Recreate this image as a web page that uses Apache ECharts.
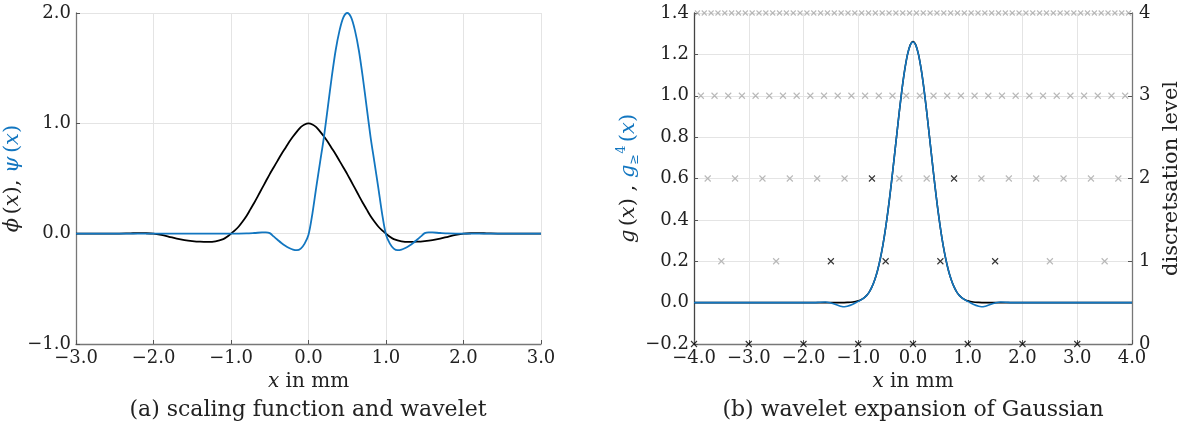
<!DOCTYPE html>
<html lang="en">
<head>
<meta charset="UTF-8">
<title>wavelet</title>
<script src="https://cdn.jsdelivr.net/npm/echarts@6/dist/echarts.min.js"></script>
<style>
  body { margin: 0; background: #fff; }
  #chartmain { width: 1188px; height: 435px; }
</style>
</head>
<body>
<div id="chartmain"></div>
<script type="text/javascript">

// (a) scaling function phi and wavelet psi, [x, y]
var phiPts = [[-3,0],[-2.5,0],[-2.3,0.003],[-2.2,0.005],[-2.1,0.004],[-2,0],[-1.9,-0.012],[-1.8,-0.028],
  [-1.7,-0.045],[-1.6,-0.058],[-1.5,-0.067],[-1.4,-0.073],[-1.3,-0.075],[-1.2,-0.07],[-1.1,-0.05],[-1.05,-0.028],
  [-1,0],[-0.95,0.03],[-0.9,0.065],[-0.85,0.11],[-0.8,0.16],[-0.75,0.22],[-0.7,0.28],[-0.65,0.345],[-0.6,0.41],
  [-0.55,0.475],[-0.5,0.54],[-0.45,0.6],[-0.4,0.66],[-0.35,0.72],[-0.3,0.775],[-0.25,0.83],[-0.2,0.88],
  [-0.15,0.925],[-0.1,0.965],[-0.05,0.99],[0,1],[0.05,0.99],[0.1,0.965],[0.15,0.925],[0.2,0.88],[0.25,0.83],
  [0.3,0.775],[0.35,0.72],[0.4,0.66],[0.45,0.6],[0.5,0.54],[0.55,0.475],[0.6,0.41],[0.65,0.345],[0.7,0.28],
  [0.75,0.22],[0.8,0.16],[0.85,0.11],[0.9,0.065],[0.95,0.03],[1,0],[1.05,-0.028],[1.1,-0.05],[1.2,-0.07],
  [1.3,-0.075],[1.4,-0.073],[1.5,-0.067],[1.6,-0.058],[1.7,-0.045],[1.8,-0.028],[1.9,-0.012],[2,0],
  [2.1,0.004],[2.2,0.005],[2.3,0.003],[2.5,0],[3,0]];

var psiPts = [[-3,0],[-1,0],[-0.8,0.002],[-0.7,0.006],[-0.6,0.011],[-0.55,0.012],[-0.5,0.005],[-0.45,-0.025],
  [-0.4,-0.055],[-0.35,-0.085],[-0.3,-0.11],[-0.25,-0.13],[-0.2,-0.145],[-0.15,-0.15],[-0.1,-0.135],
  [-0.05,-0.09],[0,-0.01],[0.05,0.18],[0.1,0.42],[0.15,0.65],[0.2,0.88],[0.25,1.15],[0.3,1.42],[0.35,1.66],
  [0.4,1.84],[0.45,1.96],[0.5,2],[0.55,1.96],[0.6,1.84],[0.65,1.66],[0.7,1.42],[0.75,1.15],[0.8,0.88],
  [0.85,0.65],[0.9,0.42],[0.95,0.18],[1,-0.01],[1.05,-0.09],[1.1,-0.135],[1.15,-0.15],[1.2,-0.145],
  [1.25,-0.13],[1.3,-0.11],[1.35,-0.085],[1.4,-0.055],[1.45,-0.025],[1.5,0.005],[1.55,0.012],[1.6,0.011],
  [1.7,0.006],[1.8,0.002],[2,0],[3,0]];

// (b) Gaussian g and its expansion g>=4
var gaussPts = [[-4,0],[-1.3,0],[-1.2,0.001],[-1.1,0.003],[-1,0.0085],[-0.95,0.014],[-0.9,0.022],[-0.85,0.034],
  [-0.8,0.051],[-0.75,0.076],[-0.7,0.109],[-0.65,0.153],[-0.6,0.209],[-0.55,0.278],[-0.5,0.361],[-0.45,0.458],
  [-0.4,0.567],[-0.35,0.684],[-0.3,0.804],[-0.25,0.923],[-0.2,1.033],[-0.15,1.127],[-0.1,1.2],[-0.05,1.246],
  [0,1.262],[0.05,1.246],[0.1,1.2],[0.15,1.127],[0.2,1.033],[0.25,0.923],[0.3,0.804],[0.35,0.684],[0.4,0.567],
  [0.45,0.458],[0.5,0.361],[0.55,0.278],[0.6,0.209],[0.65,0.153],[0.7,0.109],[0.75,0.076],[0.8,0.051],
  [0.85,0.034],[0.9,0.022],[0.95,0.014],[1,0.0085],[1.1,0.003],[1.2,0.001],[1.3,0],[4,0]];

var approxPts = [[-4,0],[-1.8,0],[-1.7,0.002],[-1.6,0.003],[-1.5,-0.002],[-1.4,-0.01],[-1.3,-0.019],[-1.25,-0.02],
  [-1.2,-0.018],[-1.1,-0.008],[-1,0.006],[-0.95,0.013],[-0.9,0.022],[-0.85,0.034],[-0.8,0.051],[-0.75,0.076],
  [-0.7,0.109],[-0.65,0.153],[-0.6,0.209],[-0.55,0.278],[-0.5,0.361],[-0.45,0.458],[-0.4,0.567],[-0.35,0.684],
  [-0.3,0.804],[-0.25,0.923],[-0.2,1.033],[-0.15,1.127],[-0.1,1.2],[-0.05,1.245],[0,1.26],[0.05,1.245],
  [0.1,1.2],[0.15,1.127],[0.2,1.033],[0.25,0.923],[0.3,0.804],[0.35,0.684],[0.4,0.567],[0.45,0.458],
  [0.5,0.361],[0.55,0.278],[0.6,0.209],[0.65,0.153],[0.7,0.109],[0.75,0.076],[0.8,0.051],[0.85,0.034],
  [0.9,0.022],[0.95,0.013],[1,0.006],[1.1,-0.008],[1.2,-0.018],[1.25,-0.02],[1.3,-0.019],[1.4,-0.01],
  [1.5,-0.002],[1.6,0.003],[1.7,0.002],[1.8,0],[4,0]];

// discretisation points per level (x positions)
var lvl0Black = [-4,-3,-2,-1,0,1,2,3];
var lvl1Black = [-1.5,-0.5,0.5,1.5];
var lvl1Gray = [-3.5,-2.5,2.5,3.5];
var lvl2Black = [-0.75,0.75];
var lvl2Gray = [-3.75,-3.25,-2.75,-2.25,-1.75,-1.25,-0.25,0.25,1.25,1.75,2.25,2.75,3.25,3.75];
var lvl3Gray = [-3.875,-3.625,-3.375,-3.125,-2.875,-2.625,-2.375,-2.125,-1.875,-1.625,-1.375,-1.125,
  -0.875,-0.625,-0.375,-0.125,0.125,0.375,0.625,0.875,1.125,1.375,1.625,1.875,2.125,2.375,2.625,2.875,
  3.125,3.375,3.625,3.875];
var lvl4Gray = [-3.9375,-3.8125,-3.6875,-3.5625,-3.4375,-3.3125,-3.1875,-3.0625,-2.9375,-2.8125,-2.6875,
  -2.5625,-2.4375,-2.3125,-2.1875,-2.0625,-1.9375,-1.8125,-1.6875,-1.5625,-1.4375,-1.3125,-1.1875,-1.0625,
  -0.9375,-0.8125,-0.6875,-0.5625,-0.4375,-0.3125,-0.1875,-0.0625,0.0625,0.1875,0.3125,0.4375,0.5625,
  0.6875,0.8125,0.9375,1.0625,1.1875,1.3125,1.4375,1.5625,1.6875,1.8125,1.9375,2.0625,2.1875,2.3125,
  2.4375,2.5625,2.6875,2.8125,2.9375,3.0625,3.1875,3.3125,3.4375,3.5625,3.6875,3.8125,3.9375];

var BLUE = '#1276c0';
var FONT = 'DejaVu Serif';
var crossPath = 'path://M0,0L10,10M10,0L0,10';

function fmt1(v) {
    if (Math.abs(v) < 1e-9) v = 0;
    return v.toFixed(1).replace('-', '\u2212');
}

function levelSeries(xs, level, color, size) {
    var d = [];
    for (var i = 0; i < xs.length; i++) d.push([xs[i], level]);
    return {
        type: 'scatter', xAxisIndex: 1, yAxisIndex: 2, data: d,
        symbol: crossPath, symbolSize: size, clip: false, silent: true,
        itemStyle: { color: 'none', borderColor: color, borderWidth: 1.1 },
        z: 3
    };
}

var axisLbl = { fontFamily: FONT, fontSize: 18, color: '#222', margin: 5 };
var nameRich = {
    k: { fontFamily: FONT, fontSize: 21, color: '#222' },
    ki: { fontFamily: FONT, fontSize: 21, fontStyle: 'italic', color: '#222' },
    b: { fontFamily: FONT, fontSize: 21, color: BLUE },
    bi: { fontFamily: FONT, fontSize: 21, fontStyle: 'italic', color: BLUE },
    bsup: { fontFamily: FONT, fontSize: 13, color: BLUE, verticalAlign: 'top', lineHeight: 26 },
    bsub: { fontFamily: FONT, fontSize: 13, color: BLUE, verticalAlign: 'bottom', lineHeight: 26 }
};
var xNameRich = {
    k: { fontFamily: FONT, fontSize: 20, color: '#222' },
    ki: { fontFamily: FONT, fontSize: 20, fontStyle: 'italic', color: '#222' }
};
var gridLine = { show: true, lineStyle: { color: '#e4e4e4', width: 1 } };
var tick = { show: true, inside: true, length: 4, lineStyle: { color: '#555' } };

var option = {
    animation: false,
    grid: [
        { left: 76, right: 647, top: 13, bottom: 91 },
        { left: 694, right: 56, top: 13, bottom: 91 }
    ],
    xAxis: [
        {
            type: 'value', gridIndex: 0, min: -3, max: 3, interval: 1,
            axisLine: { onZero: false, lineStyle: { color: '#777', width: 1.3 } }, axisTick: tick,
            axisLabel: Object.assign({ formatter: fmt1 }, axisLbl), splitLine: gridLine,
            name: '{ki|x}{k| in mm}', nameLocation: 'middle', nameGap: 26,
            nameTextStyle: { rich: xNameRich }
        },
        {
            type: 'value', gridIndex: 1, min: -4, max: 4, interval: 1,
            axisLine: { onZero: false, lineStyle: { color: '#777', width: 1.3 } }, axisTick: tick,
            axisLabel: Object.assign({ formatter: fmt1 }, axisLbl), splitLine: gridLine,
            name: '{ki|x}{k| in mm}', nameLocation: 'middle', nameGap: 26,
            nameTextStyle: { rich: xNameRich }
        }
    ],
    yAxis: [
        {
            type: 'value', gridIndex: 0, min: -1, max: 2, interval: 1,
            axisLine: { show: true, onZero: false, lineStyle: { color: '#777', width: 1.3 } }, axisTick: tick,
            axisLabel: Object.assign({ formatter: fmt1 }, axisLbl), splitLine: gridLine,
            name: '{ki|\u03d5} {k|(}{ki|x}{k|), }{bi|\u03c8} {b|(}{bi|x}{b|)}',
            nameLocation: 'middle', nameGap: 42, nameRotate: 90,
            nameTextStyle: { rich: nameRich }
        },
        {
            type: 'value', gridIndex: 1, min: -0.2, max: 1.4, interval: 0.2,
            axisLine: { show: true, onZero: false, lineStyle: { color: '#444', width: 1.3 } }, axisTick: tick,
            axisLabel: Object.assign({ formatter: fmt1 }, axisLbl), splitLine: gridLine,
            name: '{ki|g} {k|(}{ki|x}{k|) , }{bi|g}{bsub|\u2265}{bsup|4} {b|(}{bi|x}{b|)}',
            nameLocation: 'middle', nameGap: 34, nameRotate: 90,
            nameTextStyle: { rich: nameRich }
        },
        {
            type: 'value', gridIndex: 1, position: 'right', min: 0, max: 4, interval: 1,
            axisLine: { show: true, onZero: false, lineStyle: { color: '#777', width: 1.3 } }, axisTick: tick,
            axisLabel: Object.assign({}, axisLbl, { margin: 7 }), splitLine: { show: false },
            name: 'discretsation level', nameLocation: 'middle', nameGap: 29, nameRotate: 90,
            nameTextStyle: { fontFamily: FONT, fontSize: 21, color: '#222' }
        }
    ],
    series: [
        { type: 'line', xAxisIndex: 0, yAxisIndex: 0, data: phiPts, showSymbol: false, smooth: 0.3,
          lineStyle: { color: '#000', width: 1.8 }, z: 4 },
        { type: 'line', xAxisIndex: 0, yAxisIndex: 0, data: psiPts, showSymbol: false, smooth: 0.3,
          lineStyle: { color: BLUE, width: 1.8 }, z: 5 },
        levelSeries(lvl4Gray, 4, '#a8a8a8', 5),
        levelSeries(lvl3Gray, 3, '#a8a8a8', 6),
        levelSeries(lvl2Gray, 2, '#a8a8a8', 6),
        levelSeries(lvl2Black, 2, '#000', 6),
        levelSeries(lvl1Gray, 1, '#a8a8a8', 6),
        levelSeries(lvl1Black, 1, '#000', 6),
        levelSeries(lvl0Black, 0, '#000', 6),
        { type: 'line', xAxisIndex: 1, yAxisIndex: 1, data: gaussPts, showSymbol: false, smooth: 0.3,
          lineStyle: { color: '#000', width: 1.6 }, z: 4 },
        { type: 'line', xAxisIndex: 1, yAxisIndex: 1, data: approxPts, showSymbol: false, smooth: 0.3,
          lineStyle: { color: BLUE, width: 1.6 }, z: 5 }
    ],
    graphic: [
        { type: 'text', x: 308, y: 410, style: { text: '(a) scaling function and wavelet', fontFamily: FONT,
          fontSize: 22, fill: '#222', align: 'center', verticalAlign: 'middle' } },
        { type: 'text', x: 913, y: 410, style: { text: '(b) wavelet expansion of Gaussian', fontFamily: FONT,
          fontSize: 22, fill: '#222', align: 'center', verticalAlign: 'middle' } }
    ]
};

var myChart = echarts.init(document.getElementById('chartmain'));
myChart.setOption(option);

</script>
</body>
</html>
